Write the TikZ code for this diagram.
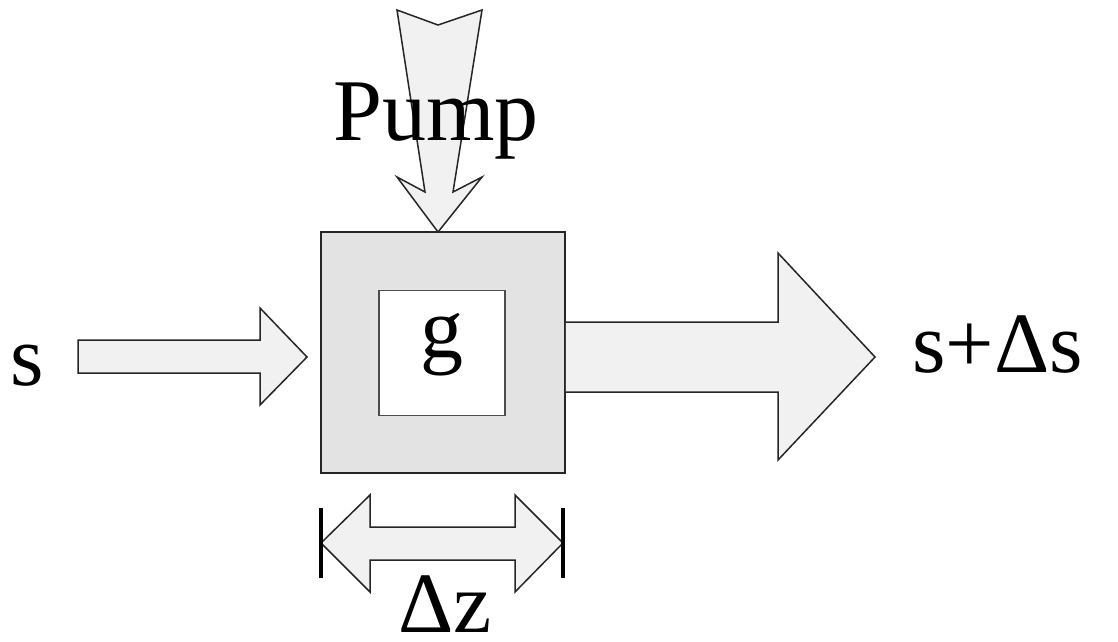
\documentclass[tikz,border=0pt]{standalone}
\usepackage{fontspec}
\setmainfont{Liberation Serif}
\definecolor{arrowfill}{HTML}{F1F1F1}
\definecolor{boxfill}{HTML}{E3E3E3}
\begin{document}
\begin{tikzpicture}[x=1pt,y=-1pt,
  blockarrow/.style={draw=black!85,fill=arrowfill,line width=1.5pt,line join=miter},
  label/.style={font=\fontsize{86}{86}\selectfont,inner sep=0pt,anchor=base},
  endbar/.style={line width=3.5pt,draw=black}]
\useasboundingbox[fill=white] (0,0) rectangle (1118,641);
% outer box and inner box
\node[draw=black!85,fill=boxfill,line width=1.5pt,minimum width=244pt,minimum height=241pt,inner sep=0pt] (box) at (443,352.5) {};
\node[draw=black!70,fill=white,line width=1.8pt,minimum width=126pt,minimum height=125pt,inner sep=0pt] (inner) at (442,353) {};
\node[label] (g) at (442,357) {g};
% pump arrow (tapered shaft)
\draw[blockarrow] (397,10) -- (438,25) -- (482,10) -- (453,192) -- (482,177) -- (438,232)
  -- (397,177) -- (425,192) -- cycle;
\node[label,font=\fontsize{88}{88}\selectfont] (pump) at (436,140) {Pump};
% input arrow
\draw[blockarrow] (78,340) -- (260,340) -- (260,308) -- (307,357) -- (260,405) -- (260,373) -- (78,373) -- cycle;
\node[label] (s) at (27,385) {s};
% output arrow
\draw[blockarrow] (box.east |- 0,322) -- (778,322) -- (778,253) -- (875,357) -- (778,460) -- (778,392) -- (box.east |- 0,392);
\node[label,anchor=base west] (sds) at (912,372) {s+Δs};
% dimension arrow
\draw[blockarrow] (321,543) -- (370,495) -- (370,527) -- (515,527) -- (515,495) -- (563,543)
  -- (515,592) -- (515,560) -- (370,560) -- (370,592) -- cycle;
\draw[endbar] (321,508) -- (321,578);
\draw[endbar] (563,508) -- (563,578);
\node[label] (dz) at (445,632) {Δz};
\end{tikzpicture}
\end{document}
